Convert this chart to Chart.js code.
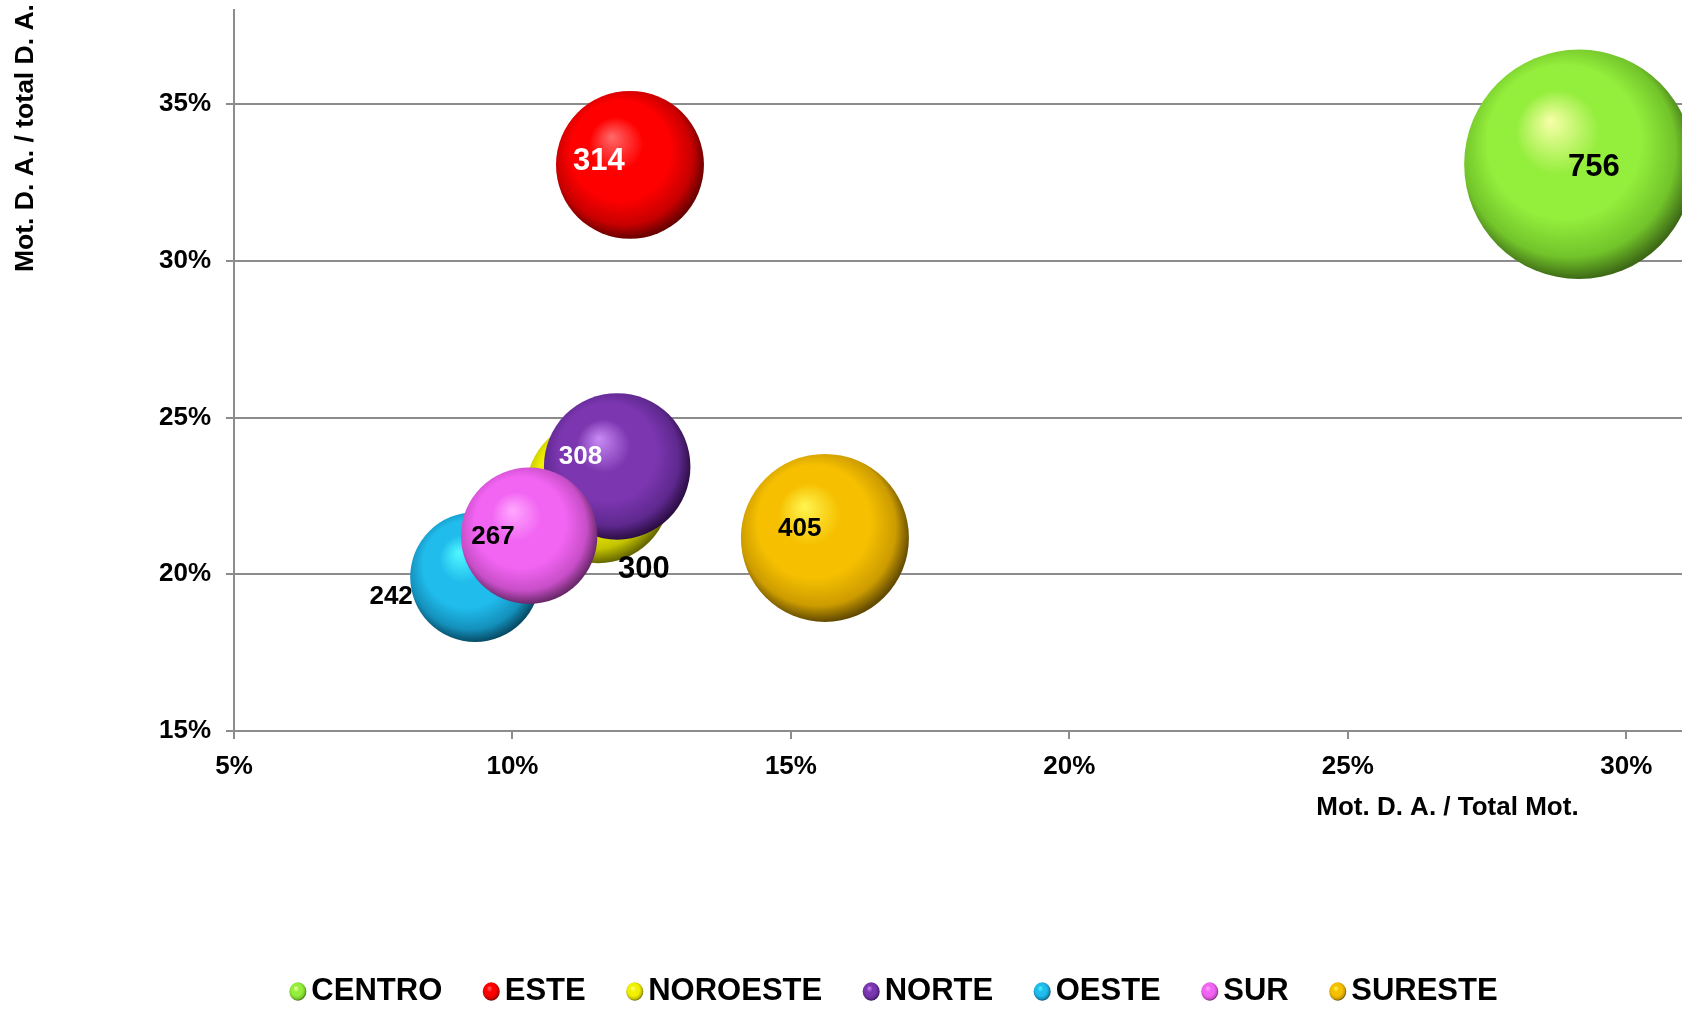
<!DOCTYPE html>
<html>
<head>
<meta charset="utf-8">
<script src="https://cdn.jsdelivr.net/npm/chart.js@4.4.1/dist/chart.umd.min.js"></script>
<style>
html,body{margin:0;padding:0;background:#fff;overflow:hidden}
canvas{display:block}
</style>
</head>
<body>
<canvas id="c" width="1682" height="1009"></canvas>
<script>
// ---------------- DATA ----------------
const categories   = ['CENTRO', 'ESTE', 'NOROESTE', 'NORTE', 'OESTE', 'SUR', 'SURESTE'];
const xValues      = [29.15, 12.11, 11.54, 11.88, 9.33, 10.30, 15.61];   // Mot. D. A. / Total Mot. (%)
const yValues      = [33.08, 33.06, 22.66, 23.44, 19.91, 21.23, 21.16];  // Mot. D. A. / total D. A. (%)
const bubbleValues = [756, 314, 300, 308, 242, 267, 405];
const xTickValues  = [5, 10, 15, 20, 25, 30];
const xTickLabels  = ['5%', '10%', '15%', '20%', '25%', '30%'];
const yTickValues  = [15, 20, 25, 30, 35];
const yTickLabels  = ['15%', '20%', '25%', '30%', '35%'];
const xTitle = 'Mot. D. A. / Total Mot.';
const yTitle = 'Mot. D. A. / total D. A.';

// ---------------- STYLE ----------------
const FONT = '"Liberation Sans", Arial, sans-serif';
const GRID = '#8c8c8c';
const RADIUS_K = 4.175; // px per sqrt(value)
const palette = [
  {hi:'#F8FFA8', base:'#94EE3C', mid:'#72C42A', dark:'#3E6A16'},
  {hi:'#FF6A6A', base:'#FF0000', mid:'#C80000', dark:'#680000'},
  {hi:'#FFFF90', base:'#F2F200', mid:'#C4C400', dark:'#686800'},
  {hi:'#C88CF5', base:'#7C36B0', mid:'#5E288E', dark:'#2C0E44'},
  {hi:'#50F8FF', base:'#20BCEC', mid:'#1490BC', dark:'#074C66'},
  {hi:'#FFA8FF', base:'#F264F2', mid:'#C84EC8', dark:'#6A286A'},
  {hi:'#FFF550', base:'#F6C000', mid:'#CC9C00', dark:'#624A00'}
];
// label placement relative to bubble centre, in units of bubble radius
const labelStyle = [
  {dx: 0.13, dy: 0.03, color:'#000', size:31, align:'center'},
  {dx:-0.42, dy:-0.05, color:'#fff', size:31, align:'center'},
  {dx: 0.63, dy: 1.09, color:'#000', size:31, align:'center'},
  {dx:-0.50, dy:-0.13, color:'#fff', size:26, align:'center'},
  {dx:-0.96, dy: 0.30, color:'#000', size:26, align:'right'},
  {dx:-0.53, dy: 0.02, color:'#000', size:26, align:'center'},
  {dx:-0.30, dy:-0.11, color:'#000', size:26, align:'center'}
];

function bubbleRadius(i) { return RADIUS_K * Math.sqrt(bubbleValues[i]); }

function sphereGradient(ctx, cx, cy, r, p) {
  const g = ctx.createRadialGradient(cx - 0.25 * r, cy - 0.38 * r, 0, cx - 0.06 * r, cy - 0.08 * r, 1.08 * r);
  g.addColorStop(0, p.hi);
  g.addColorStop(0.34, p.base);
  g.addColorStop(0.62, p.base);
  g.addColorStop(0.86, p.mid);
  g.addColorStop(1, p.dark);
  return g;
}

const datasets = categories.map((name, i) => ({
  label: name,
  data: [{x: xValues[i], y: yValues[i]}],
  order: categories.length - i,
  borderWidth: 0,
  radius: () => bubbleRadius(i),
  backgroundColor: (c) => {
    const chart = c.chart;
    if (!chart.chartArea || !chart.scales.x) return palette[i].base;
    const cx = chart.scales.x.getPixelForValue(xValues[i]);
    const cy = chart.scales.y.getPixelForValue(yValues[i]);
    return sphereGradient(chart.ctx, cx, cy, bubbleRadius(i), palette[i]);
  }
}));

const decorPlugin = {
  id: 'decor',
  afterDatasetsDraw(chart) {
    const ctx = chart.ctx;
    const xs = chart.scales.x, ys = chart.scales.y;
    ctx.save();
    categories.forEach((name, i) => {
      const st = labelStyle[i];
      const r = bubbleRadius(i);
      const cx = xs.getPixelForValue(xValues[i]);
      const cy = ys.getPixelForValue(yValues[i]);
      ctx.font = 'bold ' + st.size + 'px ' + FONT;
      ctx.fillStyle = st.color;
      ctx.textAlign = st.align;
      ctx.textBaseline = 'middle';
      ctx.fillText(String(bubbleValues[i]), cx + st.dx * r, cy + st.dy * r);
    });
    ctx.restore();
  },
  afterDraw(chart) {
    const ctx = chart.ctx;
    ctx.save();
    ctx.fillStyle = '#000';
    // x axis title
    ctx.font = 'bold 26px ' + FONT;
    ctx.textAlign = 'center';
    ctx.textBaseline = 'middle';
    ctx.fillText(xTitle, chart.chartArea.left + 0.838 * (chart.chartArea.right - chart.chartArea.left), 808);
    // y axis title
    ctx.save();
    ctx.translate(26, 138);
    ctx.rotate(-Math.PI / 2);
    ctx.font = 'bold 26.5px ' + FONT;
    ctx.fillText(yTitle, 0, 0);
    ctx.restore();
    // legend
    ctx.font = 'bold 31px ' + FONT;
    const mk = 17, gapIn = 5, gapOut = 40.5;
    const widths = categories.map(t => ctx.measureText(t).width);
    const total = widths.reduce((a, b) => a + b, 0) + categories.length * (mk + gapIn) + (categories.length - 1) * gapOut;
    let x = 893.5 - total / 2;
    const y = 991;
    categories.forEach((t, i) => {
      const cx = x + mk / 2, cy = y + 0.5;
      ctx.save();
      ctx.translate(cx, cy);
      ctx.scale(1, 1.1);
      ctx.beginPath();
      ctx.arc(0, 0, mk / 2, 0, Math.PI * 2);
      ctx.fillStyle = sphereGradient(ctx, 0, 0, mk / 2, palette[i]);
      ctx.fill();
      ctx.restore();
      x += mk + gapIn;
      ctx.fillStyle = '#000';
      ctx.textAlign = 'left';
      ctx.textBaseline = 'middle';
      ctx.fillText(t, x, y);
      x += widths[i] + gapOut;
    });
    ctx.restore();
  }
};

new Chart(document.getElementById('c'), {
  type: 'bubble',
  data: { datasets },
  options: {
    responsive: false,
    devicePixelRatio: 1,
    animation: false,
    events: [],
    layout: { autoPadding: false, padding: { left: 0, right: 0, top: 10, bottom: 0 } },
    plugins: { legend: { display: false }, tooltip: { enabled: false } },
    scales: {
      x: {
        type: 'linear', position: 'bottom', min: 5, max: 31,
        afterBuildTicks: (s) => { s.ticks = xTickValues.map(v => ({value: v})); },
        afterFit: (s) => { s.height = 278; s.paddingLeft = 0; s.paddingRight = 0; },
        ticks: {
          autoSkip: false, maxRotation: 0, padding: 12, color: '#000',
          font: { family: FONT, size: 26, weight: 'bold' },
          callback: (v) => xTickLabels[xTickValues.indexOf(v)]
        },
        grid: { drawOnChartArea: false, drawTicks: true, tickLength: 8, color: GRID, lineWidth: 2 },
        border: { display: true, color: GRID, width: 2 }
      },
      y: {
        type: 'linear', position: 'left', min: 15, max: 38,
        afterBuildTicks: (s) => { s.ticks = yTickValues.map(v => ({value: v})); },
        afterFit: (s) => { s.width = 234; s.paddingTop = 0; s.paddingBottom = 0; },
        ticks: {
          autoSkip: false, padding: 15, color: '#000',
          font: { family: FONT, size: 26, weight: 'bold' },
          callback: (v) => yTickLabels[yTickValues.indexOf(v)]
        },
        grid: { drawOnChartArea: true, drawTicks: true, tickLength: 8, color: GRID, lineWidth: 2 },
        border: { display: true, color: GRID, width: 2 }
      }
    }
  },
  plugins: [decorPlugin]
});
</script>
</body>
</html>
